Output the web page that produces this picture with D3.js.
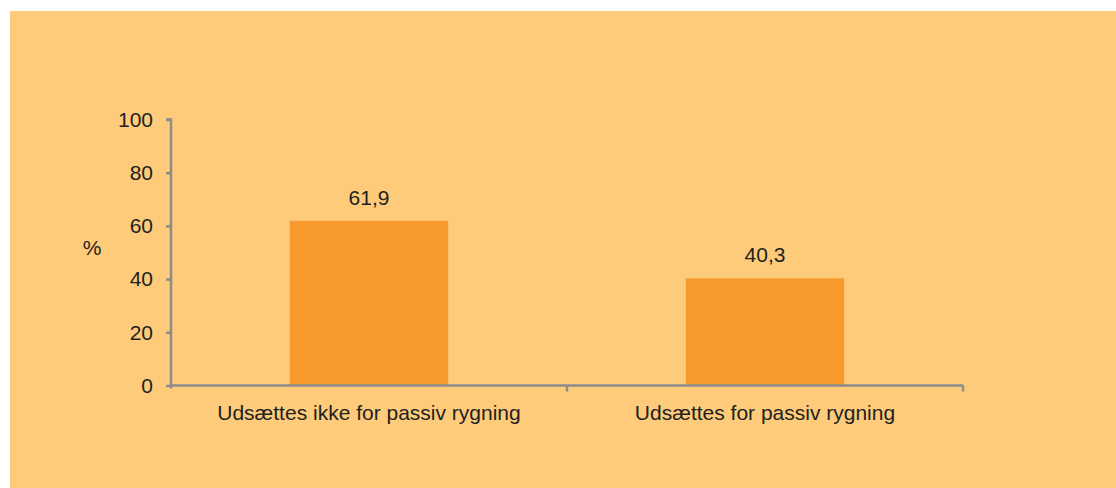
<!DOCTYPE html>
<html><head><meta charset="utf-8">
<script src="https://cdn.jsdelivr.net/npm/d3@7"></script>
<style>html,body{margin:0;padding:0;background:#fff;}svg{display:block;}</style>
</head><body>
<script>
const categories = ["Udsættes ikke for passiv rygning", "Udsættes for passiv rygning"];
const values = [61.9, 40.3];
const valueLabels = ["61,9", "40,3"];
const yTicks = [0, 20, 40, 60, 80, 100];
const yLabel = "%";

const W = 1116, H = 488;
const svg = d3.select("body").append("svg").attr("width", W).attr("height", H);
svg.append("rect").attr("x", 10).attr("y", 11).attr("width", W - 10).attr("height", H - 11).attr("fill", "#FECB7B");

const m = {left: 171, right: 963, top: 119.5, bottom: 385.5};
const x = d3.scaleBand().domain(categories).range([m.left, m.right]).paddingInner(0.6).paddingOuter(0.3);
const xb = d3.scaleBand().domain(categories).range([m.left, m.right]);
const y = d3.scaleLinear().domain([0, 100]).range([m.bottom, m.top]);
const font = "'Liberation Sans', Arial, sans-serif";
const fs = "21px";
const axisColor = "#8C8C8C";
const txt = "#231F20";

// bars
svg.selectAll("rect.bar").data(values).enter().append("rect")
  .attr("class", "bar")
  .attr("x", (d, i) => x(categories[i]))
  .attr("width", x.bandwidth())
  .attr("y", d => y(d))
  .attr("height", d => y(0) - y(d))
  .attr("fill", "#F7992D");

// value labels
svg.selectAll("text.val").data(values).enter().append("text")
  .attr("class", "val")
  .attr("x", (d, i) => x(categories[i]) + x.bandwidth() / 2)
  .attr("y", d => y(d) - 16)
  .attr("text-anchor", "middle")
  .attr("font-family", font).attr("font-size", fs).attr("fill", txt)
  .text((d, i) => valueLabels[i]);

// y axis
const yAxis = d3.axisLeft(y).tickValues(yTicks).tickSize(5).tickPadding(13).tickFormat(d3.format("d"));
const gy = svg.append("g").attr("transform", `translate(${m.left},0)`).call(yAxis);
gy.select(".domain").attr("stroke", axisColor).attr("stroke-width", 2.5).attr("d", `M-5,${m.top}H0V${m.bottom + 3}`);
gy.selectAll(".tick line").attr("stroke", axisColor).attr("stroke-width", 2.5);
gy.selectAll(".tick text").attr("font-family", font).attr("font-size", fs).attr("fill", txt);

// x axis
const gx = svg.append("g").attr("transform", `translate(0,${m.bottom})`);
gx.append("line").attr("x1", m.left).attr("x2", m.right).attr("stroke", axisColor).attr("stroke-width", 2.5);
const bounds = categories.map(c => xb(c) + xb.bandwidth());
gx.selectAll("line.tk").data(bounds).enter().append("line")
  .attr("class", "tk").attr("x1", d => d).attr("x2", d => d).attr("y1", 0).attr("y2", 6)
  .attr("stroke", axisColor).attr("stroke-width", 2.5);
gx.selectAll("text.cat").data(categories).enter().append("text")
  .attr("class", "cat")
  .attr("x", d => xb(d) + xb.bandwidth() / 2)
  .attr("y", 34.5)
  .attr("text-anchor", "middle")
  .attr("font-family", font).attr("font-size", fs).attr("fill", txt)
  .text(d => d);

// y label
svg.append("text").attr("x", 92).attr("y", 255).attr("text-anchor", "middle")
  .attr("font-family", font).attr("font-size", fs).attr("fill", txt).text(yLabel);
</script>
</body></html>
